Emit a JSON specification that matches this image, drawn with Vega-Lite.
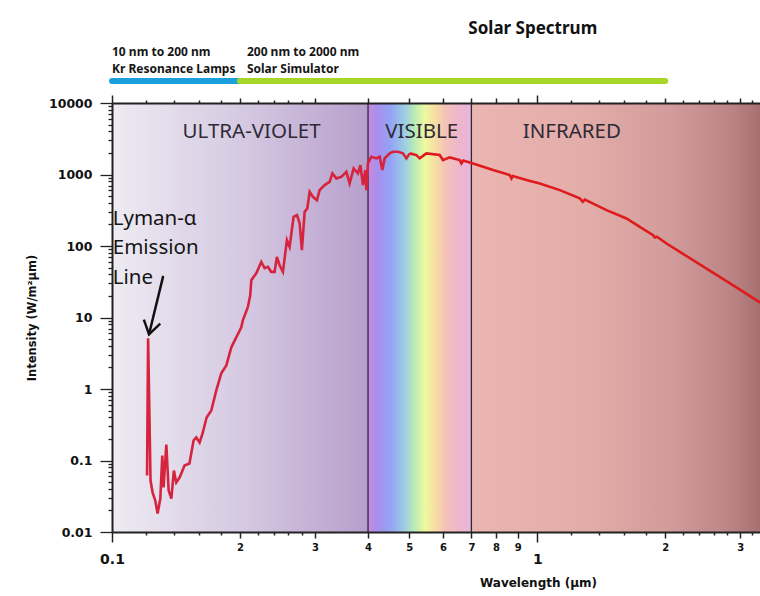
{
  "$schema": "https://vega.github.io/schema/vega-lite/v6.json",
  "width": 648,
  "height": 429,
  "autosize": {"type": "none"},
  "padding": {"left": 112, "top": 103, "right": 0, "bottom": 64},
  "background": "white",
  "config": {"view": {"stroke": null}, "axis": {"grid": false}},
  "datasets": {
    "regions": [
      {"region": "uv", "wl": 0.1, "wl2": 0.4},
      {"region": "vis", "wl": 0.4, "wl2": 0.7},
      {"region": "ir", "wl": 0.7, "wl2": 3.34}
    ],
    "bounds": [{"wl": 0.4}, {"wl": 0.7}],
    "spectrum": [
      {"part": "a", "wl": 0.1209, "intensity": 0.0617},
      {"part": "a", "wl": 0.1216, "intensity": 5.11},
      {"part": "a", "wl": 0.1232, "intensity": 0.0525},
      {"part": "a", "wl": 0.1246, "intensity": 0.0356},
      {"part": "a", "wl": 0.1264, "intensity": 0.0275},
      {"part": "a", "wl": 0.128, "intensity": 0.0181},
      {"part": "a", "wl": 0.1299, "intensity": 0.0294},
      {"part": "a", "wl": 0.1313, "intensity": 0.1175},
      {"part": "a", "wl": 0.1322, "intensity": 0.0419},
      {"part": "a", "wl": 0.1342, "intensity": 0.1675},
      {"part": "a", "wl": 0.1359, "intensity": 0.038},
      {"part": "a", "wl": 0.1379, "intensity": 0.0294},
      {"part": "a", "wl": 0.1398, "intensity": 0.0724},
      {"part": "a", "wl": 0.1416, "intensity": 0.0492},
      {"part": "a", "wl": 0.1442, "intensity": 0.0578},
      {"part": "a", "wl": 0.1481, "intensity": 0.0851},
      {"part": "a", "wl": 0.1521, "intensity": 0.0908},
      {"part": "a", "wl": 0.1555, "intensity": 0.1906},
      {"part": "a", "wl": 0.1578, "intensity": 0.21},
      {"part": "a", "wl": 0.1607, "intensity": 0.1787},
      {"part": "a", "wl": 0.1633, "intensity": 0.239},
      {"part": "a", "wl": 0.1669, "intensity": 0.4},
      {"part": "a", "wl": 0.1712, "intensity": 0.502},
      {"part": "a", "wl": 0.1759, "intensity": 0.956},
      {"part": "a", "wl": 0.1807, "intensity": 1.654},
      {"part": "a", "wl": 0.1857, "intensity": 2.141},
      {"part": "a", "wl": 0.1908, "intensity": 3.826},
      {"part": "a", "wl": 0.196, "intensity": 5.28},
      {"part": "a", "wl": 0.2014, "intensity": 7.29},
      {"part": "a", "wl": 0.2031, "intensity": 9.14},
      {"part": "a", "wl": 0.2087, "intensity": 14.03},
      {"part": "a", "wl": 0.2114, "intensity": 20.46},
      {"part": "a", "wl": 0.2126, "intensity": 33.2},
      {"part": "a", "wl": 0.2152, "intensity": 36.9},
      {"part": "a", "wl": 0.2184, "intensity": 41.6},
      {"part": "a", "wl": 0.2244, "intensity": 59.9},
      {"part": "a", "wl": 0.2285, "intensity": 48.9},
      {"part": "a", "wl": 0.2326, "intensity": 51.0},
      {"part": "a", "wl": 0.2369, "intensity": 43.4},
      {"part": "a", "wl": 0.2412, "intensity": 43.4},
      {"part": "a", "wl": 0.2442, "intensity": 70.4},
      {"part": "a", "wl": 0.2478, "intensity": 53.8},
      {"part": "a", "wl": 0.2523, "intensity": 43.4},
      {"part": "a", "wl": 0.2578, "intensity": 120.6},
      {"part": "a", "wl": 0.2616, "intensity": 97.1},
      {"part": "a", "wl": 0.2673, "intensity": 255.6},
      {"part": "a", "wl": 0.2722, "intensity": 270.0},
      {"part": "a", "wl": 0.2762, "intensity": 208.6},
      {"part": "a", "wl": 0.2796, "intensity": 87.3},
      {"part": "a", "wl": 0.2838, "intensity": 300.4},
      {"part": "a", "wl": 0.2879, "intensity": 335.1},
      {"part": "a", "wl": 0.2916, "intensity": 572.3},
      {"part": "a", "wl": 0.2968, "intensity": 487.2},
      {"part": "a", "wl": 0.3033, "intensity": 437.9},
      {"part": "a", "wl": 0.3078, "intensity": 604.5},
      {"part": "a", "wl": 0.3162, "intensity": 710.5},
      {"part": "a", "wl": 0.3249, "intensity": 790.4},
      {"part": "a", "wl": 0.3297, "intensity": 1036},
      {"part": "a", "wl": 0.3369, "intensity": 882},
      {"part": "a", "wl": 0.3462, "intensity": 928.7},
      {"part": "a", "wl": 0.3557, "intensity": 1091},
      {"part": "a", "wl": 0.3621, "intensity": 750.7},
      {"part": "a", "wl": 0.37, "intensity": 1218},
      {"part": "a", "wl": 0.3788, "intensity": 1036},
      {"part": "a", "wl": 0.3837, "intensity": 1354},
      {"part": "a", "wl": 0.3892, "intensity": 710.5},
      {"part": "a", "wl": 0.3942, "intensity": 1152},
      {"part": "a", "wl": 0.3964, "intensity": 604.5},
      {"part": "a", "wl": 0.3998, "intensity": 1430},
      {"part": "a", "wl": 0.4073, "intensity": 1770},
      {"part": "a", "wl": 0.4185, "intensity": 1681},
      {"part": "a", "wl": 0.426, "intensity": 1770},
      {"part": "a", "wl": 0.4323, "intensity": 1152},
      {"part": "a", "wl": 0.4377, "intensity": 1681},
      {"part": "a", "wl": 0.4497, "intensity": 1975},
      {"part": "a", "wl": 0.4578, "intensity": 2080},
      {"part": "a", "wl": 0.4704, "intensity": 2080},
      {"part": "a", "wl": 0.4833, "intensity": 1975},
      {"part": "a", "wl": 0.4923, "intensity": 1681},
      {"part": "a", "wl": 0.5012, "intensity": 1975},
      {"part": "b", "wl": 0.5012, "intensity": 1975},
      {"part": "b", "wl": 0.5197, "intensity": 1869},
      {"part": "b", "wl": 0.5291, "intensity": 1681},
      {"part": "b", "wl": 0.5486, "intensity": 1975},
      {"part": "b", "wl": 0.5895, "intensity": 1869},
      {"part": "b", "wl": 0.6002, "intensity": 1591},
      {"part": "b", "wl": 0.6223, "intensity": 1736},
      {"part": "b", "wl": 0.657, "intensity": 1591},
      {"part": "b", "wl": 0.6631, "intensity": 1430},
      {"part": "b", "wl": 0.6696, "intensity": 1565},
      {"part": "b", "wl": 0.7063, "intensity": 1430},
      {"part": "b", "wl": 0.7871, "intensity": 1152},
      {"part": "b", "wl": 0.8616, "intensity": 980.8},
      {"part": "b", "wl": 0.8696, "intensity": 882},
      {"part": "b", "wl": 0.8757, "intensity": 949.6},
      {"part": "b", "wl": 0.9432, "intensity": 835},
      {"part": "b", "wl": 1.0136, "intensity": 750.7},
      {"part": "b", "wl": 1.1296, "intensity": 604.5},
      {"part": "b", "wl": 1.2589, "intensity": 462.8},
      {"part": "b", "wl": 1.2796, "intensity": 414.6},
      {"part": "b", "wl": 1.2935, "intensity": 445.1},
      {"part": "b", "wl": 1.455, "intensity": 317.3},
      {"part": "b", "wl": 1.6212, "intensity": 242.8},
      {"part": "b", "wl": 1.7424, "intensity": 185.1},
      {"part": "b", "wl": 1.8728, "intensity": 141.7},
      {"part": "b", "wl": 1.8901, "intensity": 131.6},
      {"part": "b", "wl": 1.9108, "intensity": 135.0},
      {"part": "b", "wl": 2.0137, "intensity": 108.4},
      {"part": "b", "wl": 2.1639, "intensity": 82.7},
      {"part": "b", "wl": 2.5011, "intensity": 48.4},
      {"part": "b", "wl": 2.8893, "intensity": 28.2},
      {"part": "b", "wl": 3.2799, "intensity": 17.4},
      {"part": "b", "wl": 3.3755, "intensity": 15.8}
    ],
    "regionLabels": [
      {"label": "ULTRA-VIOLET", "wl": 0.2129, "intensity": 3926},
      {"label": "VISIBLE", "wl": 0.535, "intensity": 3926},
      {"label": "INFRARED", "wl": 1.206, "intensity": 3926}
    ],
    "lyman": [
      {"label": "Lyman-α", "wl": 0.1004, "intensity": 237},
      {"label": "Emission", "wl": 0.1004, "intensity": 93},
      {"label": "Line", "wl": 0.1004, "intensity": 35.4}
    ],
    "arrow": [{"wl": 0.1318, "intensity": 37.0, "wl2": 0.1222, "intensity2": 5.82}],
    "sources": [
      {"source": "Kr Resonance Lamps", "wl": 0.1, "wl2": 0.2, "intensity": 20330},
      {"source": "Solar Simulator", "wl": 0.2, "wl2": 2.0, "intensity": 20330}
    ],
    "sourceText": [
      {"text": "10 nm to 200 nm", "wl": 0.1, "intensity": 52300},
      {"text": "Kr Resonance Lamps", "wl": 0.1, "intensity": 29650},
      {"text": "200 nm to 2000 nm", "wl": 0.2076, "intensity": 52300},
      {"text": "Solar Simulator", "wl": 0.2076, "intensity": 29650}
    ],
    "titleText": [{"text": "Solar Spectrum", "wl": 0.976, "intensity": 108750}]
  },
  "layer": [
    {
      "data": {"name": "regions"},
      "transform": [{"filter": "datum.region == 'uv'"}],
      "mark": {"type": "rect", "fill": {"gradient": "linear", "x1": 0, "y1": 0, "x2": 1, "y2": 0, "stops": [
        {"offset": 0, "color": "#eeebf2"},
        {"offset": 0.5, "color": "#d6cae2"},
        {"offset": 1, "color": "#b79fcc"}]}},
      "encoding": {
        "x": {"field": "wl", "type": "quantitative", "scale": {"type": "log", "domain": [0.1, 3.34], "nice": false}, "axis": null},
        "x2": {"field": "wl2"}
      }
    },
    {
      "data": {"name": "regions"},
      "transform": [{"filter": "datum.region == 'vis'"}],
      "mark": {"type": "rect", "fill": {"gradient": "linear", "x1": 0, "y1": 0, "x2": 1, "y2": 0, "stops": [
        {"offset": 0, "color": "#c889e0"},
        {"offset": 0.1, "color": "#a690ee"},
        {"offset": 0.22, "color": "#93a4f4"},
        {"offset": 0.35, "color": "#9ccbe6"},
        {"offset": 0.45, "color": "#b8ecb4"},
        {"offset": 0.55, "color": "#eef8a0"},
        {"offset": 0.65, "color": "#f6dea4"},
        {"offset": 0.75, "color": "#f4c2b8"},
        {"offset": 0.88, "color": "#eeb6cc"},
        {"offset": 1, "color": "#e6b6dc"}]}},
      "encoding": {
        "x": {"field": "wl", "type": "quantitative", "scale": {"type": "log", "domain": [0.1, 3.34], "nice": false}, "axis": null},
        "x2": {"field": "wl2"}
      }
    },
    {
      "data": {"name": "regions"},
      "transform": [{"filter": "datum.region == 'ir'"}],
      "mark": {"type": "rect", "fill": {"gradient": "linear", "x1": 0, "y1": 0, "x2": 1, "y2": 0, "stops": [
        {"offset": 0, "color": "#ebb5b1"},
        {"offset": 0.4, "color": "#e2aca8"},
        {"offset": 0.7, "color": "#d09b9a"},
        {"offset": 0.9, "color": "#bb8585"},
        {"offset": 1, "color": "#a77070"}]}},
      "encoding": {
        "x": {"field": "wl", "type": "quantitative", "scale": {"type": "log", "domain": [0.1, 3.34], "nice": false}, "axis": null},
        "x2": {"field": "wl2"}
      }
    },
    {
      "data": {"name": "bounds"},
      "mark": {"type": "rule", "color": "#2b2b2b", "strokeWidth": 1.3},
      "encoding": {
        "x": {"field": "wl", "type": "quantitative", "scale": {"type": "log", "domain": [0.1, 3.34], "nice": false},
          "axis": {
            "orient": "top",
            "zindex": 2,
            "values": [0.1, 0.12, 0.14, 0.16, 0.18, 0.2, 0.22, 0.24, 0.26, 0.28, 0.3, 0.4, 0.5, 0.6, 0.7, 0.8, 0.9, 1, 1.2, 1.4, 1.6, 1.8, 2, 2.2, 2.4, 2.6, 2.8, 3, 3.2],
            "labels": false,
            "title": null,
            "domainColor": "#222",
            "domainWidth": 2,
            "tickColor": "#222",
            "tickWidth": 1.5,
            "tickSize": {"condition": [
              {"test": "datum.value == 0.1 || datum.value == 1", "value": 8},
              {"test": "indexof([0.2,0.3,0.4,0.5,0.6,0.7,0.8,0.9,2,3], datum.value) >= 0", "value": 5}], "value": 3}
          }
        }
      }
    },
    {
      "data": {"name": "spectrum"},
      "mark": {"type": "line", "strokeWidth": 2.6, "clip": true},
      "encoding": {
        "x": {"field": "wl", "type": "quantitative", "scale": {"type": "log", "domain": [0.1, 3.34], "nice": false},
          "axis": {
            "orient": "bottom",
            "zindex": 2,
            "values": [0.1, 0.12, 0.14, 0.16, 0.18, 0.2, 0.22, 0.24, 0.26, 0.28, 0.3, 0.4, 0.5, 0.6, 0.7, 0.8, 0.9, 1, 1.2, 1.4, 1.6, 1.8, 2, 2.2, 2.4, 2.6, 2.8, 3, 3.2],
            "labelExpr": "datum.value == 0.1 ? '0.1' : datum.value == 1 ? '1' : datum.value == 2 ? '2' : datum.value == 3 ? '3' : (indexof([0.2,0.3,0.4,0.5,0.6,0.7,0.8,0.9], datum.value) >= 0 ? format(datum.value * 10, '.0f') : '')",
            "labelFont": "DejaVu Sans",
            "labelFontWeight": "bold",
            "labelColor": "#111",
            "labelFontSize": {"condition": {"test": "datum.value == 0.1 || datum.value == 1", "value": 14}, "value": 10},
            "labelPadding": {"condition": {"test": "datum.value == 0.1 || datum.value == 1", "value": 10}, "value": 4},
            "labelOverlap": false,
            "labelFlush": false,
            "labelBound": false,
            "domainColor": "#222",
            "domainWidth": 2,
            "tickColor": "#222",
            "tickWidth": 1.5,
            "tickSize": {"condition": [
              {"test": "datum.value == 0.1 || datum.value == 1", "value": 10},
              {"test": "indexof([0.2,0.3,0.4,0.5,0.6,0.7,0.8,0.9,2,3], datum.value) >= 0", "value": 6}], "value": 3},
            "title": "Wavelength (µm)",
            "titleFont": "DejaVu Sans",
            "titleFontWeight": "bold",
            "titleFontSize": 12,
            "titleColor": "#111",
            "titleX": 426,
            "titleY": 50,
            "titleBaseline": "middle"
          }
        },
        "y": {"field": "intensity", "type": "quantitative", "scale": {"type": "log", "domain": [0.01, 10000], "nice": false},
          "axis": {
            "orient": "left",
            "zindex": 2,
            "values": [0.01, 0.02, 0.03, 0.04, 0.05, 0.06, 0.07, 0.08, 0.09, 0.1, 0.2, 0.3, 0.4, 0.5, 0.6, 0.7, 0.8, 0.9, 1, 2, 3, 4, 5, 6, 7, 8, 9, 10, 20, 30, 40, 50, 60, 70, 80, 90, 100, 200, 300, 400, 500, 600, 700, 800, 900, 1000, 2000, 3000, 4000, 5000, 6000, 7000, 8000, 9000, 10000],
            "labelExpr": "abs(log(datum.value) / LN10 - round(log(datum.value) / LN10)) < 0.000001 ? format(datum.value, '~g') : ''",
            "labelFont": "DejaVu Sans",
            "labelFontWeight": "bold",
            "labelFontSize": 12.5,
            "labelColor": "#111",
            "labelPadding": 8,
            "labelOverlap": false,
            "labelFlush": false,
            "labelBound": false,
            "domainColor": "#222",
            "domainWidth": 2,
            "tickColor": "#222",
            "tickWidth": 1.3,
            "tickSize": {"condition": {"test": "abs(log(datum.value) / LN10 - round(log(datum.value) / LN10)) < 0.000001", "value": 12}, "value": 4},
            "title": "Intensity (W/m²µm)",
            "titleFont": "DejaVu Sans",
            "titleFontWeight": "bold",
            "titleFontSize": 11.5,
            "titleColor": "#111",
            "titlePadding": 11
          }
        },
        "color": {"field": "part", "type": "nominal", "scale": {"domain": ["a", "b"], "range": ["#d6243e", "#df1b1e"]}, "legend": null}
      }
    },
    {
      "data": {"name": "regionLabels"},
      "mark": {"type": "text", "font": "Noto Sans", "fontSize": 20.5, "color": "#2e2a36", "align": "center", "baseline": "middle"},
      "encoding": {
        "x": {"field": "wl", "type": "quantitative", "scale": {"type": "log", "domain": [0.1, 3.34], "nice": false}, "axis": null},
        "y": {"field": "intensity", "type": "quantitative", "scale": {"type": "log", "domain": [0.01, 10000], "nice": false}},
        "text": {"field": "label"}
      }
    },
    {
      "data": {"name": "lyman"},
      "mark": {"type": "text", "font": "Noto Sans", "fontSize": 20.5, "color": "#151515", "align": "left", "baseline": "middle"},
      "encoding": {
        "x": {"field": "wl", "type": "quantitative", "scale": {"type": "log", "domain": [0.1, 3.34], "nice": false}, "axis": null},
        "y": {"field": "intensity", "type": "quantitative", "scale": {"type": "log", "domain": [0.01, 10000], "nice": false}},
        "text": {"field": "label"}
      }
    },
    {
      "data": {"name": "arrow"},
      "mark": {"type": "rule", "color": "#111", "strokeWidth": 2.5, "strokeCap": "round"},
      "encoding": {
        "x": {"field": "wl", "type": "quantitative", "scale": {"type": "log", "domain": [0.1, 3.34], "nice": false}, "axis": null},
        "y": {"field": "intensity", "type": "quantitative", "scale": {"type": "log", "domain": [0.01, 10000], "nice": false}},
        "x2": {"field": "wl2"},
        "y2": {"field": "intensity2"}
      }
    },
    {
      "data": {"name": "arrow"},
      "mark": {"type": "point", "shape": "M-0.65,-1L0,0L0.65,-1", "size": 676, "angle": 13.5, "filled": false, "stroke": "#111", "strokeWidth": 2.5, "strokeJoin": "miter", "opacity": 1},
      "encoding": {
        "x": {"field": "wl2", "type": "quantitative", "scale": {"type": "log", "domain": [0.1, 3.34], "nice": false}, "axis": null},
        "y": {"field": "intensity2", "type": "quantitative", "scale": {"type": "log", "domain": [0.01, 10000], "nice": false}}
      }
    },
    {
      "data": {"name": "sources"},
      "transform": [{"filter": "datum.source == 'Kr Resonance Lamps'"}],
      "mark": {"type": "rule", "strokeWidth": 6, "strokeCap": "round", "color": "#1c9fdc"},
      "encoding": {
        "x": {"field": "wl", "type": "quantitative", "scale": {"type": "log", "domain": [0.1, 3.34], "nice": false}, "axis": null},
        "x2": {"field": "wl2"},
        "y": {"field": "intensity", "type": "quantitative", "scale": {"type": "log", "domain": [0.01, 10000], "nice": false}}
      }
    },
    {
      "data": {"name": "sources"},
      "transform": [{"filter": "datum.source == 'Solar Simulator'"}],
      "mark": {"type": "rule", "strokeWidth": 6, "strokeCap": "round", "color": "#a8d628"},
      "encoding": {
        "x": {"field": "wl", "type": "quantitative", "scale": {"type": "log", "domain": [0.1, 3.34], "nice": false}, "axis": null},
        "x2": {"field": "wl2"},
        "y": {"field": "intensity", "type": "quantitative", "scale": {"type": "log", "domain": [0.01, 10000], "nice": false}}
      }
    },
    {
      "data": {"name": "sourceText"},
      "mark": {"type": "text", "font": "Noto Sans", "fontSize": 12, "fontWeight": "bold", "color": "#151515", "align": "left", "baseline": "middle"},
      "encoding": {
        "x": {"field": "wl", "type": "quantitative", "scale": {"type": "log", "domain": [0.1, 3.34], "nice": false}, "axis": null},
        "y": {"field": "intensity", "type": "quantitative", "scale": {"type": "log", "domain": [0.01, 10000], "nice": false}},
        "text": {"field": "text"}
      }
    },
    {
      "data": {"name": "titleText"},
      "mark": {"type": "text", "font": "Noto Sans", "fontSize": 17, "fontWeight": "bold", "color": "#111", "align": "center", "baseline": "middle"},
      "encoding": {
        "x": {"field": "wl", "type": "quantitative", "scale": {"type": "log", "domain": [0.1, 3.34], "nice": false}, "axis": null},
        "y": {"field": "intensity", "type": "quantitative", "scale": {"type": "log", "domain": [0.01, 10000], "nice": false}},
        "text": {"field": "text"}
      }
    }
  ],
  "resolve": {"axis": {"x": "independent"}}
}
